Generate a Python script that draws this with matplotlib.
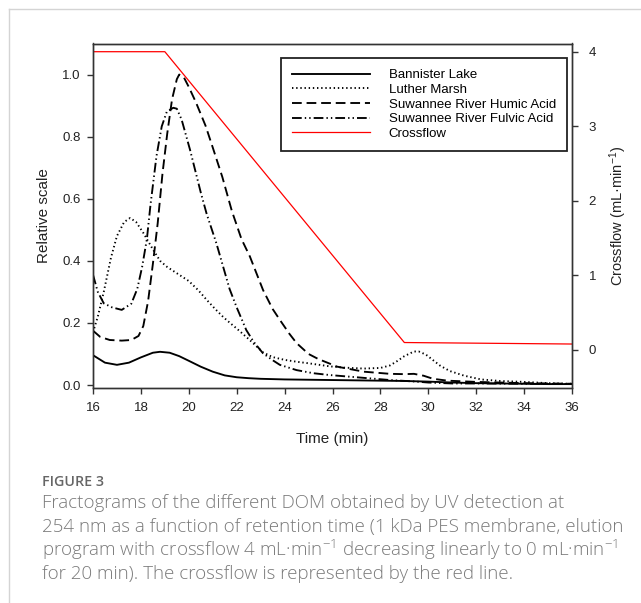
import matplotlib
matplotlib.use("Agg")
import matplotlib.pyplot as plt
from matplotlib.lines import Line2D

plt.rcParams['font.family'] = ['Liberation Sans', 'DejaVu Sans']
plt.rcParams['lines.scale_dashes'] = False

# ---------------- data ----------------
t_bl = [16, 16.5, 17, 17.5, 18, 18.5, 18.8, 19.2, 19.6, 20, 20.5, 21, 21.5, 22, 22.5,
        23, 24, 25, 26, 27, 28, 29, 30, 31, 32, 33, 34, 35, 36]
v_bl = [0.096, 0.072, 0.065, 0.072, 0.089, 0.104, 0.107, 0.104, 0.093, 0.078, 0.059,
        0.043, 0.031, 0.025, 0.022, 0.020, 0.018, 0.017, 0.016, 0.015, 0.014, 0.013,
        0.011, 0.008, 0.006, 0.005, 0.004, 0.003, 0.003]

t_lm = [16, 16.2, 16.45, 16.75, 17.0, 17.3, 17.55, 17.8, 18.1, 18.5, 18.8, 19.1, 19.5,
        20, 20.4, 20.75, 21.1, 21.45, 21.75, 22, 22.5, 23.1, 23.5, 24, 24.5, 25, 25.9,
        26.5, 27.3, 28, 28.4, 28.7, 29.0, 29.4, 29.6, 29.9, 30.2, 30.5, 30.9, 31.5,
        32.2, 33, 34, 35, 36]
v_lm = [0.17, 0.22, 0.30, 0.41, 0.48, 0.525, 0.538, 0.525, 0.49, 0.437, 0.40, 0.38,
        0.36, 0.335, 0.305, 0.274, 0.245, 0.218, 0.198, 0.182, 0.148, 0.105, 0.09,
        0.081, 0.075, 0.07, 0.06, 0.056, 0.053, 0.055, 0.063, 0.077, 0.093, 0.108,
        0.108, 0.098, 0.08, 0.062, 0.045, 0.03, 0.018, 0.013, 0.01, 0.006, 0.004]

t_srha = [16, 16.3, 16.7, 17.2, 17.6, 17.9, 18.1, 18.3, 18.5, 18.7, 18.9, 19.1, 19.3,
          19.5, 19.6, 19.8, 20.0, 20.3, 20.7, 21.0, 21.4, 21.8, 22.2, 22.55, 23.1,
          23.5, 23.8, 24.2, 24.5, 25, 25.4, 26.2, 27.3, 28.4, 29.0, 29.4, 29.8, 30.2,
          30.8, 32, 34, 36]
v_srha = [0.175, 0.155, 0.145, 0.143, 0.145, 0.158, 0.19, 0.27, 0.39, 0.52, 0.68, 0.81,
          0.92, 0.985, 1.0, 0.99, 0.96, 0.91, 0.835, 0.765, 0.67, 0.56, 0.47, 0.414,
          0.306, 0.245, 0.21, 0.165, 0.135, 0.10, 0.084, 0.059, 0.043, 0.036, 0.035,
          0.036, 0.03, 0.02, 0.014, 0.01, 0.006, 0.004]

t_srfa = [16, 16.2, 16.45, 16.8, 17.2, 17.6, 17.85, 18.05, 18.25, 18.4, 18.65, 18.87,
          19.08, 19.35, 19.5, 19.7, 20.05, 20.5, 20.75, 21.15, 21.7, 22.0, 22.4, 22.7,
          23.1, 23.5, 23.8, 24.5, 25.2, 25.9, 27, 28.4, 29.5, 30, 31, 32, 34, 36]
v_srfa = [0.355, 0.30, 0.263, 0.25, 0.242, 0.262, 0.31, 0.38, 0.47, 0.58, 0.737, 0.833,
          0.88, 0.893, 0.89, 0.855, 0.758, 0.62, 0.55, 0.457, 0.31, 0.25, 0.177, 0.14,
          0.102, 0.08, 0.065, 0.048, 0.038, 0.032, 0.025, 0.016, 0.011, 0.008, 0.005,
          0.005, 0.004, 0.003]

t_cf = [16, 19, 29, 36]
v_cf = [4.0, 4.0, 0.1, 0.08]

series_labels = ["Bannister Lake", "Luther Marsh", "Suwannee River Humic Acid",
                 "Suwannee River Fulvic Acid", "Crossflow"]
x_ticks = [16, 18, 20, 22, 24, 26, 28, 30, 32, 34, 36]
y_ticks = [0.0, 0.2, 0.4, 0.6, 0.8, 1.0]
y2_ticks = [0, 1, 2, 3, 4]

caption_title = "FIGURE 3"
caption_lines = [
    "Fractograms of the different DOM obtained by UV detection at",
    "254 nm as a function of retention time (1 kDa PES membrane, elution",
    r"program with crossflow 4 mL·min$\mathregular{^{-1}}$ decreasing linearly to 0 mL·min$\mathregular{^{-1}}$",
    "for 20 min). The crossflow is represented by the red line.",
]

# ---------------- figure ----------------
W, H = 641, 603
fig = plt.figure(figsize=(W / 100, H / 100), dpi=100)

def fx(px):
    return px / W

def fy(py):
    return 1 - py / H

# light frame of the page
fig.add_artist(Line2D([fx(9), fx(9)], [fy(9), 0], color='#d4d4d4', lw=1.0))
fig.add_artist(Line2D([fx(9), 1], [fy(9), fy(9)], color='#d4d4d4', lw=1.0))

ax = fig.add_axes([fx(93), fy(387.5), fx(572) - fx(93), fy(43.5) - fy(387.5)])
ax2 = ax.twinx()

lw = 1.35
ls_dot = (0, (1.0, 2.0))
ls_dash = (0, (7.0, 3.5))
ls_dd = (0, (7.0, 2.2, 1.0, 2.2, 1.0, 2.2))

l1, = ax.plot(t_bl, v_bl, color='black', lw=lw, ls='-')
l2, = ax.plot(t_lm, v_lm, color='black', lw=lw, ls=ls_dot)
l3, = ax.plot(t_srha, v_srha, color='black', lw=lw, ls=ls_dash)
l4, = ax.plot(t_srfa, v_srfa, color='black', lw=lw, ls=ls_dd)
l5, = ax2.plot(t_cf, v_cf, color='#ff0000', lw=0.9)

ax.set_xlim(16, 36)
ax.set_ylim(-0.008, 1.1)
ax2.set_ylim(-0.503, 4.11)

ax.set_xticks(x_ticks)
ax.set_yticks(y_ticks)
ax.set_yticklabels([f"{v:.1f}" for v in y_ticks])
ax2.set_yticks(y2_ticks)

spine_col = '#333333'
for a in (ax, ax2):
    for s in a.spines.values():
        s.set_color(spine_col)
        s.set_linewidth(1.0)
ax.tick_params(axis='both', direction='out', length=4, width=1.0, color=spine_col,
               labelsize=9.5, labelcolor='#222222')
ax.tick_params(axis='x', pad=6.5)
ax.tick_params(axis='y', pad=5)
ax2.tick_params(axis='y', direction='out', length=4.5, width=1.0, color=spine_col,
                labelsize=9.5, labelcolor='#222222', pad=7.5)

ax.set_xlabel("Time (min)", fontsize=11, labelpad=13, color='#222222')
ax.set_ylabel("Relative scale", fontsize=11, labelpad=8, color='#222222')
ax2.set_ylabel(r"Crossflow (mL·min$\mathregular{^{-1}}$)", fontsize=10.5,
               labelpad=8, color='#222222')

leg = ax.legend([l1, l2, l3, l4, l5], series_labels, loc='upper right',
                bbox_to_anchor=(fx(567), fy(58)), bbox_transform=fig.transFigure,
                borderaxespad=0, fontsize=9.5, handlelength=5.9, handletextpad=1.4,
                labelspacing=0.18, borderpad=0.85, fancybox=False, framealpha=1,
                edgecolor='#222222')
leg.get_frame().set_linewidth(1.3)
leg.set_zorder(5)
ax.set_zorder(ax2.get_zorder() + 1)
ax.patch.set_visible(False)

# caption
cap_col = '#7a7a7a'
fig.text(fx(41.5), fy(482), caption_title, fontsize=10.3, color='#666666',
         fontfamily=['Open Sans', 'DejaVu Sans'], fontweight='semibold',
         ha='left', va='center')
y0 = 503.0
for i, line in enumerate(caption_lines):
    fig.text(fx(41.5), fy(y0 + i * 23.6), line, fontsize=13.5, color=cap_col,
             fontfamily=['Open Sans', 'DejaVu Sans'], fontweight='light',
             ha='left', va='center')

fig.savefig("out.png", dpi=100)
